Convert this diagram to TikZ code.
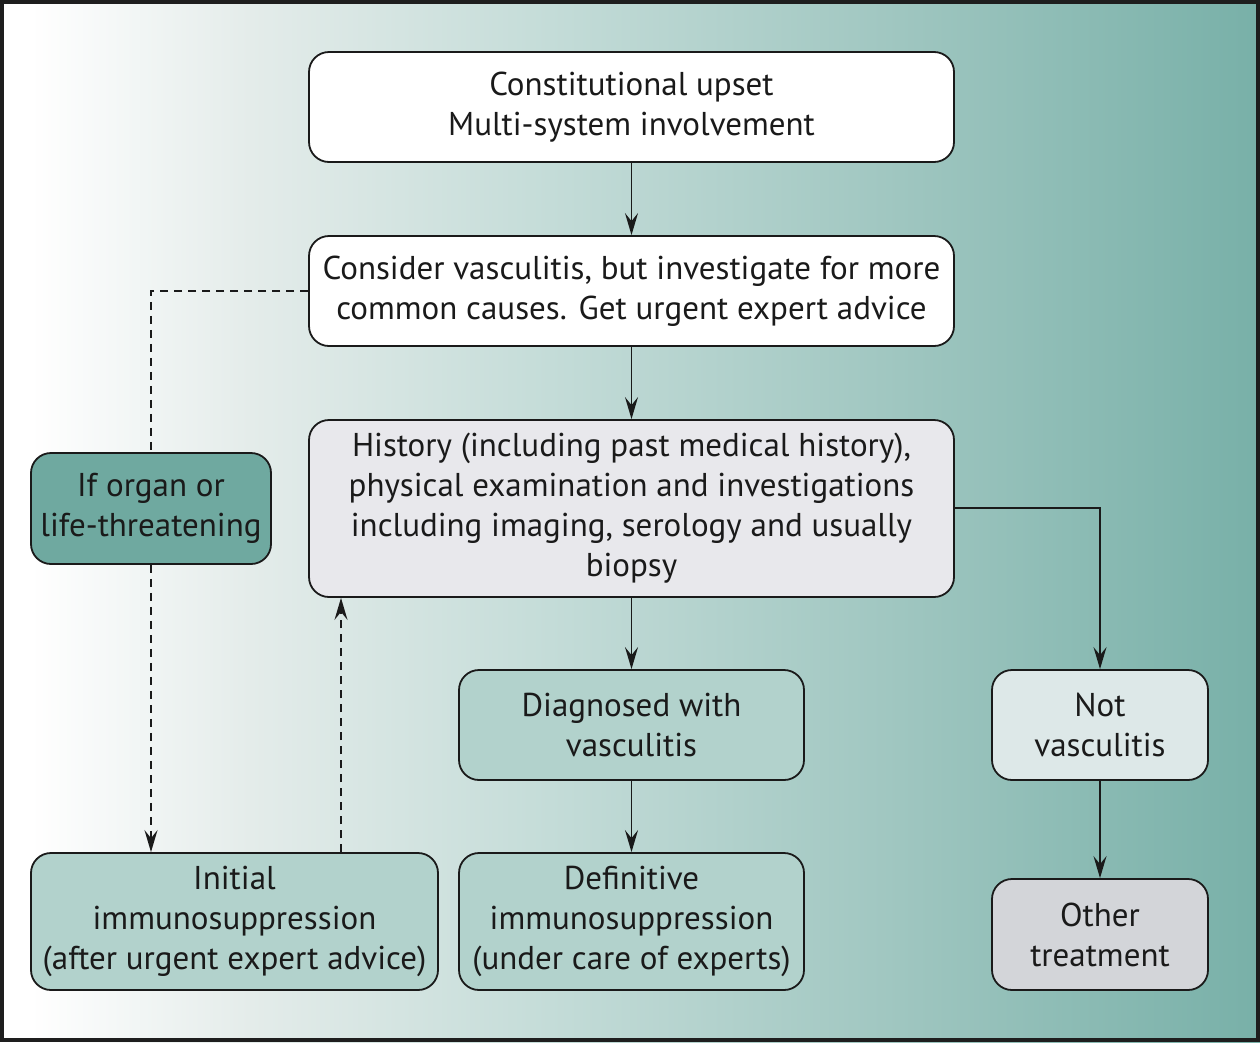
\documentclass[tikz,border=0pt]{standalone}
\usepackage{fontspec}
\setmainfont{PT Sans}
\usetikzlibrary{arrows.meta}
\definecolor{bgA}{HTML}{E4ECEA}
\definecolor{bgB}{HTML}{C4DCD8}
\definecolor{bgC}{HTML}{9FC6C0}
\definecolor{bgD}{HTML}{78B0A8}
\definecolor{frame}{HTML}{1E1E1E}
\definecolor{ink}{HTML}{1A1A1A}
\definecolor{histfill}{HTML}{E8E8EC}
\definecolor{organfill}{HTML}{6FA9A0}
\definecolor{tealfill}{HTML}{B2D2CC}
\definecolor{notfill}{HTML}{DDE8E8}
\definecolor{otherfill}{HTML}{D3D5D9}
\pgfdeclarehorizontalshading{bgshade}{100bp}{color(0bp)=(white); color(25bp)=(white); color(26.2bp)=(white); color(34.9bp)=(bgA); color(46.8bp)=(bgB); color(60.7bp)=(bgC); color(75bp)=(bgD); color(100bp)=(bgD)}
\tikzset{
  box/.style={draw=ink, line width=1.8pt, rounded corners=20pt, inner sep=0pt, align=center,
    text=ink, font=\fontsize{33pt}{40pt}\selectfont},
  conn/.style={draw=ink, line width=1.8pt, -{Stealth[length=22pt,width=13pt,inset=8pt]}},
  dconn/.style={conn, dash pattern=on 8pt off 6pt},
  dline/.style={draw=ink, line width=1.8pt, dash pattern=on 8pt off 6pt}
}
\begin{document}
\begin{tikzpicture}[x=1pt,y=-1pt]
\useasboundingbox (0,0) rectangle (1260,1042);
\fill[shading=bgshade] (0,0) rectangle (1260,1042);
\draw[line width=4pt, frame] (2,2) rectangle (1258,1040);

\node[box, fill=white, minimum width=645pt, minimum height=110pt] (b1) at (631.5,107) {Constitutional upset\\Multi-system involvement};
\node[box, fill=white, minimum width=645pt, minimum height=110pt] (b2) at (631.5,291) {Consider vasculitis, but investigate for more\\common causes. Get urgent expert advice};
\node[box, fill=histfill, minimum width=645pt, minimum height=177pt] (b3) at (631.5,508.5) {History (including past medical history),\\physical examination and investigations\\including imaging, serology and usually\\biopsy};
\node[box, fill=organfill, minimum width=240pt, minimum height=111pt] (org) at (151,508.5) {If organ or\\life-threatening};
\node[box, fill=tealfill, minimum width=345pt, minimum height=110pt] (diag) at (631.5,725) {Diagnosed with\\vasculitis};
\node[box, fill=notfill, minimum width=216pt, minimum height=110pt] (notv) at (1100,725) {Not\\vasculitis};
\node[box, fill=tealfill, minimum width=407pt, minimum height=137pt] (init) at (234.5,921.5) {Initial\\immunosuppression\\(after urgent expert advice)};
\node[box, fill=tealfill, minimum width=345pt, minimum height=137pt] (defi) at (631.5,921.5) {Definitive\\immunosuppression\\(under care of experts)};
\node[box, fill=otherfill, minimum width=216pt, minimum height=111pt] (other) at (1100,934.5) {Other\\treatment};

\draw[conn] (b1) -- (b2);
\draw[conn] (b2) -- (b3);
\draw[conn] (b3) -- (diag);
\draw[conn] (diag) -- (defi);
\draw[conn] (b3.east |- 0,508) -| (notv.north);
\draw[conn] (notv) -- (other);

\draw[dline] (b2.west) -| (org.north);
\draw[dconn] (org.south) -- (init.north -| org.south);
\draw[dconn] (init.north -| 341,0) -- (b3.south -| 341,0);
\end{tikzpicture}
\end{document}
